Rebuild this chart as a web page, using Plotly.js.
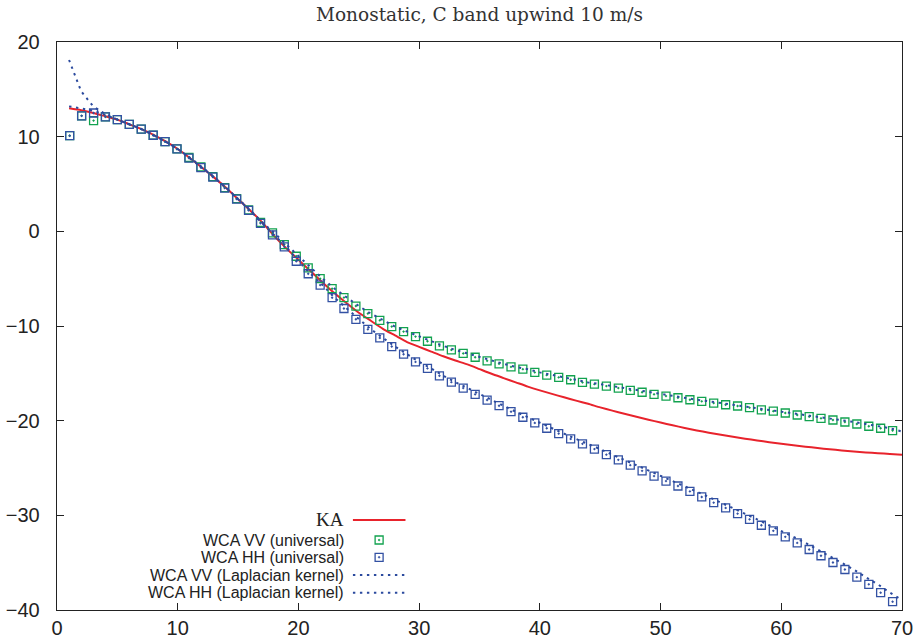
<!DOCTYPE html>
<html>
<head>
<meta charset="utf-8">
<script src="https://cdn.plot.ly/plotly-3.0.1.min.js"></script>
<style>
  html, body { margin: 0; padding: 0; background: #fff; }
  #chart { width: 920px; height: 641px; }
</style>
</head>
<body>
<div id="chart"></div>
<script>
// ---------- data ----------
var chartTitle = "Monostatic, C band upwind 10 m/s";
var seriesNames = ["KA", "WCA VV (universal)", "WCA HH (universal)", "WCA VV (Laplacian kernel)", "WCA HH (Laplacian kernel)"];

var xTickVals = [0, 10, 20, 30, 40, 50, 60, 70];
var yTickVals = [-40, -30, -20, -10, 0, 10, 20];

// incidence angle of the "universal" markers
var angleUniversal = [1.05, 2.04, 3.03, 4.01, 5.00, 5.99, 6.98, 7.97, 8.95, 9.94,
  10.93, 11.92, 12.91, 13.89, 14.88, 15.87, 16.86, 17.85, 18.83, 19.82,
  20.81, 21.80, 22.79, 23.77, 24.76, 25.75, 26.74, 27.73, 28.71, 29.70,
  30.69, 31.68, 32.67, 33.65, 34.64, 35.63, 36.62, 37.61, 38.59, 39.58,
  40.57, 41.56, 42.55, 43.53, 44.52, 45.51, 46.50, 47.49, 48.47, 49.46,
  50.45, 51.44, 52.43, 53.41, 54.40, 55.39, 56.38, 57.37, 58.35, 59.34,
  60.33, 61.32, 62.31, 63.29, 64.28, 65.27, 66.26, 67.25, 68.23, 69.22];

var vvUniversal = [10.1, 12.2, 11.7, 12.1, 11.8, 11.3, 10.8, 10.15, 9.47, 8.7,
  7.8, 6.8, 5.78, 4.62, 3.45, 2.26, 0.95, -0.17, -1.4, -2.63,
  -3.85, -5.0, -6.06, -7.0, -7.89, -8.69, -9.4, -10.06, -10.59, -11.12,
  -11.61, -12.1, -12.53, -12.9, -13.3, -13.68, -14.0, -14.32, -14.56, -14.9,
  -15.19, -15.43, -15.68, -15.96, -16.14, -16.35, -16.56, -16.8, -17.0, -17.22,
  -17.4, -17.58, -17.79, -17.96, -18.14, -18.32, -18.45, -18.63, -18.87, -19.0,
  -19.19, -19.4, -19.58, -19.75, -19.93, -20.14, -20.35, -20.59, -20.8, -21.05];

var hhUniversal = [10.1, 12.2, 12.5, 12.1, 11.8, 11.3, 10.8, 10.15, 9.47, 8.7,
  7.73, 6.74, 5.73, 4.57, 3.41, 2.21, 0.84, -0.38, -1.64, -3.16,
  -4.48, -5.68, -7.01, -8.15, -9.29, -10.35, -11.26, -12.17, -12.98, -13.79,
  -14.48, -15.26, -15.93, -16.56, -17.22, -17.82, -18.42, -19.05, -19.64, -20.24,
  -20.8, -21.37, -21.93, -22.45, -23.0, -23.59, -24.14, -24.7, -25.3, -25.85,
  -26.38, -26.9, -27.47, -28.06, -28.66, -29.22, -29.82, -30.42, -31.05, -31.64,
  -32.27, -32.91, -33.61, -34.27, -34.98, -35.72, -36.53, -37.29, -38.17, -39.12];

// incidence angle of the Laplacian-kernel curves and of the KA curve
var angleCurve = [1, 2, 3, 4, 5, 6, 7, 8, 9, 10,
  11, 12, 13, 14, 15, 16, 17, 18, 19, 20,
  21, 22, 23, 24, 25, 26, 27, 28, 29, 30,
  31, 32, 33, 34, 35, 36, 37, 38, 39, 40,
  41, 42, 43, 44, 45, 46, 47, 48, 49, 50,
  51, 52, 53, 54, 55, 56, 57, 58, 59, 60,
  61, 62, 63, 64, 65, 66, 67, 68, 69, 70];

var vvLaplacian = [18.1, 14.8, 13.2, 12.4, 11.8, 11.3, 10.8, 10.15, 9.47, 8.7,
  7.8, 6.8, 5.78, 4.62, 3.45, 2.26, 0.95, -0.17, -1.4, -2.63,
  -3.85, -5.0, -6.06, -7.0, -7.89, -8.69, -9.4, -10.06, -10.59, -11.12,
  -11.61, -12.1, -12.53, -12.9, -13.3, -13.68, -14.0, -14.32, -14.56, -14.9,
  -15.19, -15.43, -15.68, -15.96, -16.14, -16.35, -16.56, -16.8, -17.0, -17.22,
  -17.4, -17.58, -17.79, -17.96, -18.14, -18.32, -18.45, -18.63, -18.87, -19.0,
  -19.19, -19.4, -19.58, -19.75, -19.93, -20.14, -20.35, -20.59, -20.8, -21.15];

var hhLaplacian = [13.2, 12.95, 12.75, 12.3, 11.8, 11.3, 10.8, 10.15, 9.47, 8.7,
  7.73, 6.74, 5.73, 4.57, 3.41, 2.21, 0.84, -0.38, -1.64, -3.16,
  -4.48, -5.68, -7.01, -8.15, -9.29, -10.35, -11.26, -12.17, -12.98, -13.79,
  -14.48, -15.26, -15.93, -16.56, -17.22, -17.82, -18.42, -19.05, -19.64, -20.24,
  -20.8, -21.37, -21.93, -22.45, -23.0, -23.59, -24.14, -24.7, -25.3, -25.85,
  -26.38, -26.9, -27.47, -28.06, -28.66, -29.22, -29.82, -30.42, -31.05, -31.64,
  -32.27, -32.91, -33.61, -34.27, -34.98, -35.72, -36.53, -37.29, -38.17, -38.95];

var kaValues = [13.0, 12.8, 12.5, 12.15, 11.8, 11.3, 10.8, 10.2, 9.5, 8.7,
  7.75, 6.75, 5.7, 4.6, 3.4, 2.2, 0.95, -0.5, -1.8, -3.0,
  -4.2, -5.4, -6.55, -7.6, -8.6, -9.45, -10.3, -11.0, -11.7, -12.2,
  -12.7, -13.2, -13.65, -14.05, -14.55, -15.05, -15.5, -15.95, -16.4, -16.8,
  -17.17, -17.53, -17.88, -18.22, -18.6, -18.94, -19.27, -19.59, -19.9, -20.2,
  -20.49, -20.77, -21.03, -21.27, -21.49, -21.7, -21.9, -22.09, -22.27, -22.44,
  -22.6, -22.75, -22.89, -23.02, -23.14, -23.25, -23.35, -23.44, -23.52, -23.59];

// ---------- styles ----------
var RED = "#e8232c", GREEN = "#12a24f", BLUE = "#3351a3", DOTBLUE = "#2b4a9e";
var AXIS = "#222222";
var dotDash = "2.4px,4.6px";

var traces = [
  {x: angleCurve, y: kaValues, name: seriesNames[0], mode: "lines",
   line: {color: RED, width: 2, shape: "spline", smoothing: 0.6}},
  {x: angleUniversal, y: vvUniversal, name: seriesNames[1], mode: "markers",
   marker: {symbol: "square-open-dot", size: 8, color: GREEN, line: {width: 1.3, color: GREEN}}},
  {x: angleUniversal, y: hhUniversal, name: seriesNames[2], mode: "markers",
   marker: {symbol: "square-open-dot", size: 8, color: BLUE, line: {width: 1.3, color: BLUE}}},
  {x: angleCurve, y: vvLaplacian, name: seriesNames[3], mode: "lines",
   line: {color: DOTBLUE, width: 2, dash: dotDash}},
  {x: angleCurve, y: hhLaplacian, name: seriesNames[4], mode: "lines",
   line: {color: DOTBLUE, width: 2, dash: dotDash}}
];

// ---------- custom legend (text right-aligned, sample on the right) ----------
var legTextX = 0.3415, legLineX0 = 0.3502, legLineX1 = 0.4124, legMarkX = 0.3812;
var legRowsY = [0.1585, 0.1232, 0.0928, 0.0616, 0.0305];
var annotations = [], shapes = [];
seriesNames.forEach(function (nm, k) {
  annotations.push({
    xref: "paper", yref: "paper", x: legTextX, y: legRowsY[k],
    xanchor: "right", yanchor: "middle", showarrow: false, text: nm,
    font: k === 0 ? {family: "Liberation Serif, DejaVu Serif, serif", size: 19, color: "#222"}
                  : {family: "Liberation Sans, Arial, sans-serif", size: 16, color: "#222"}
  });
});
shapes.push({type: "line", xref: "paper", yref: "paper", x0: legLineX0, x1: legLineX1,
  y0: legRowsY[0], y1: legRowsY[0], line: {color: RED, width: 2}});
[[1, GREEN], [2, BLUE]].forEach(function (p) {
  shapes.push({type: "rect", xref: "paper", yref: "paper", xsizemode: "pixel", ysizemode: "pixel",
    xanchor: legMarkX, yanchor: legRowsY[p[0]], x0: -4, x1: 4, y0: -4, y1: 4,
    line: {color: p[1], width: 1.3}, fillcolor: "rgba(0,0,0,0)"});
  shapes.push({type: "circle", xref: "paper", yref: "paper", xsizemode: "pixel", ysizemode: "pixel",
    xanchor: legMarkX, yanchor: legRowsY[p[0]], x0: -0.8, x1: 0.8, y0: -0.8, y1: 0.8,
    line: {color: p[1], width: 0.8}, fillcolor: p[1]});
});
[3, 4].forEach(function (k) {
  shapes.push({type: "line", xref: "paper", yref: "paper", x0: legLineX0, x1: legLineX1,
    y0: legRowsY[k], y1: legRowsY[k], line: {color: DOTBLUE, width: 2, dash: dotDash}});
});

var axisCommon = {
  showgrid: false, zeroline: false, showline: true, linecolor: AXIS, linewidth: 1.3,
  mirror: "ticks", ticks: "inside", ticklen: 7, tickwidth: 1, tickcolor: AXIS,
  tickfont: {family: "Liberation Sans, Arial, sans-serif", size: 20, color: "#222"}
};

var layout = {
  width: 920, height: 641,
  paper_bgcolor: "#ffffff", plot_bgcolor: "#ffffff",
  margin: {l: 57, r: 18, t: 42, b: 31, pad: 0},
  showlegend: false,
  title: {
    text: chartTitle, x: 0.5, xref: "paper", xanchor: "center",
    y: 0.978, yref: "container", yanchor: "middle",
    font: {family: "DejaVu Serif, Liberation Serif, serif", size: 18.5, color: "#333"}
  },
  xaxis: Object.assign({}, axisCommon, {range: [0, 70], tickvals: xTickVals, ticktext: xTickVals.map(String),
    ticklabelstandoff: 0}),
  yaxis: Object.assign({}, axisCommon, {range: [-40, 20], tickvals: yTickVals,
    ticklabelstandoff: 12}),
  annotations: annotations,
  shapes: shapes
};

Plotly.newPlot("chart", traces, layout, {displayModeBar: false, staticPlot: true});
</script>
</body>
</html>
